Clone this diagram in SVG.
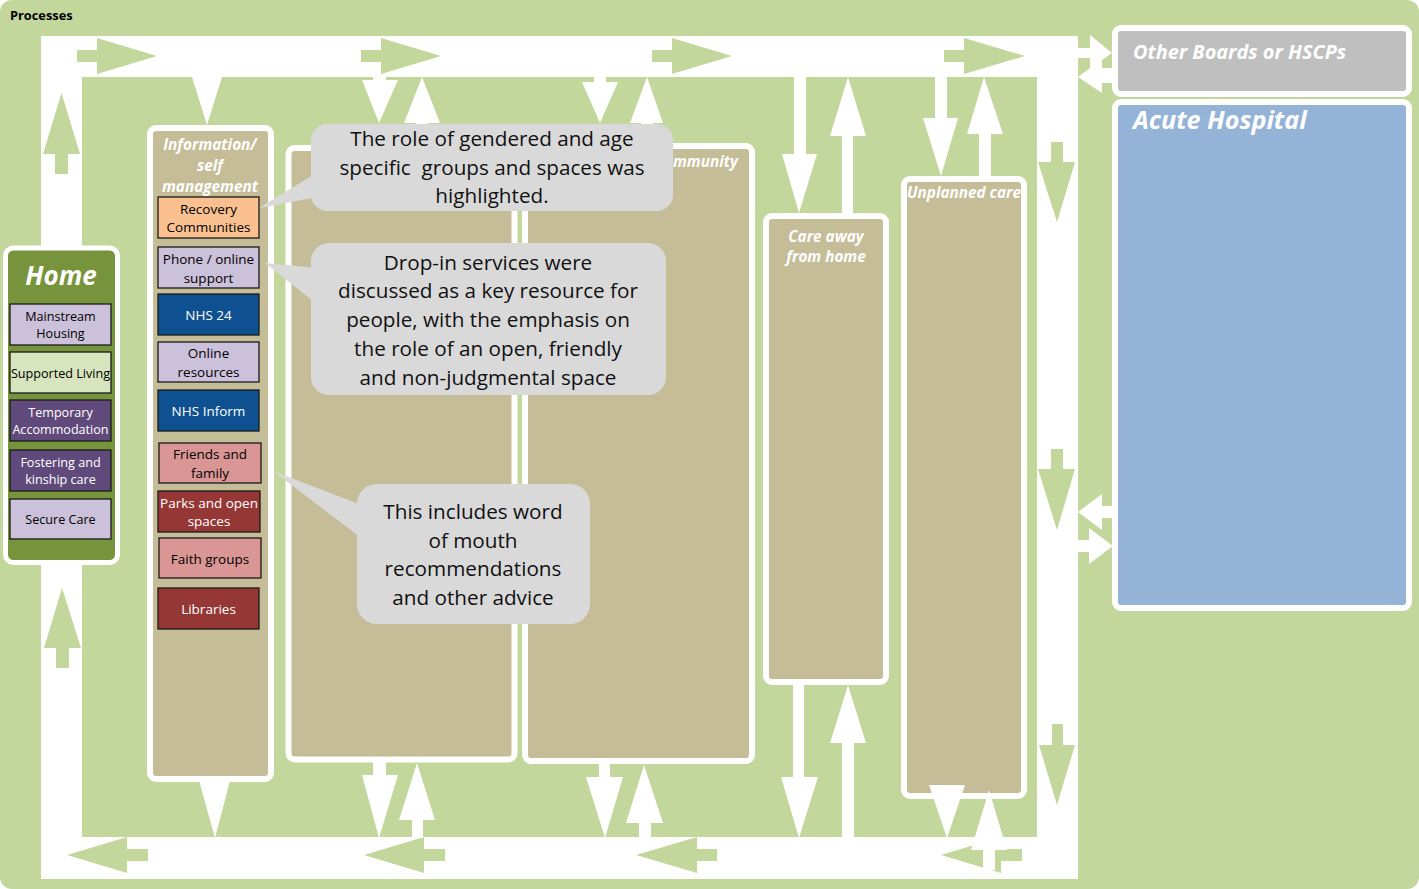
<svg xmlns="http://www.w3.org/2000/svg" width="1419" height="889" viewBox="0 0 1419 889">
<style>
text{font-family:"Open Sans","Noto Sans","Liberation Sans",sans-serif}
.bg{fill:#C3D69B}
.g{fill:#C3D69B}
.w{fill:#FFFFFF}
.col{fill:#C4BD97;stroke:#FFFFFF;stroke-width:6}
.ttl{fill:#FFFFFF;font-weight:bold;font-style:italic;font-size:15.3px;text-anchor:middle}
.ttls{fill:#FFFFFF;font-weight:bold;font-style:italic;font-size:15.3px;text-anchor:start}
.item{stroke:#1a1a1a;stroke-width:1.3}
.it{font-size:12.6px;text-anchor:middle}
.ii{font-size:13.5px;text-anchor:middle}
.dk{fill:#000000}
.lt{fill:#FFFFFF}
.lav{fill:#CCC1DA}
.lgr{fill:#D7E4BD}
.pur{fill:#604A7B}
.nhs{fill:#0F5190}
.red{fill:#953735}
.pink{fill:#D99694}
.org{fill:#FAC090}
.call{fill:#D9D9D9}
.ct{font-size:20.7px;fill:#111111;text-anchor:middle}
</style>
<rect class="bg" x="0" y="0" width="1419" height="889" rx="12"/>
<text x="10" y="20" font-size="12.8" font-weight="bold" fill="#000">Processes</text>
<g id="frame">
<rect class="w" x="41" y="36" width="1037" height="843"/>
<rect class="g" x="82" y="77" width="955" height="760"/>
</g>
<g id="home">
<rect x="5.5" y="248" width="112" height="314.5" rx="8" fill="#77933C" stroke="#FFFFFF" stroke-width="5"/>
<text x="61" y="285" fill="#FFFFFF" font-size="26" font-weight="bold" font-style="italic" text-anchor="middle">Home</text>
<rect class="item lav" x="10" y="304" width="101" height="41"/>
<text class="it dk" x="60.5" y="321">Mainstream</text><text class="it dk" x="60.5" y="338">Housing</text>
<rect class="item lgr" x="10" y="352" width="101" height="41"/>
<text class="it dk" x="60.5" y="378">Supported Living</text>
<rect class="item pur" x="10" y="400" width="101" height="41"/>
<text class="it lt" x="60.5" y="417">Temporary</text><text class="it lt" x="60.5" y="434">Accommodation</text>
<rect class="item pur" x="10" y="450" width="101" height="41"/>
<text class="it lt" x="60.5" y="467">Fostering and</text><text class="it lt" x="60.5" y="484">kinship care</text>
<rect class="item lav" x="10" y="499" width="101" height="40"/>
<text class="it dk" x="60.5" y="524">Secure Care</text>
</g>
<g id="information">
<rect class="col" x="150" y="128" width="121" height="651" rx="6"/>
<text class="ttl" x="210" y="150">Information/</text>
<text class="ttl" x="210" y="171">self</text>
<text class="ttl" x="210" y="192">management</text>
<rect class="item org" x="158" y="197" width="101" height="41"/>
<text class="ii dk" x="208.5" y="214">Recovery</text><text class="ii dk" x="208.5" y="232">Communities</text>
<rect class="item lav" x="158" y="247" width="101" height="41"/>
<text class="ii dk" x="208.5" y="264">Phone / online</text><text class="ii dk" x="208.5" y="283">support</text>
<rect class="item nhs" x="158" y="294" width="101" height="41"/>
<text class="ii lt" x="208.5" y="320">NHS 24</text>
<rect class="item lav" x="158" y="342" width="101" height="40"/>
<text class="ii dk" x="208.5" y="358">Online</text><text class="ii dk" x="208.5" y="377">resources</text>
<rect class="item nhs" x="158" y="390" width="101" height="41"/>
<text class="ii lt" x="208.5" y="416">NHS Inform</text>
<rect class="item pink" x="159" y="443" width="102" height="40"/>
<text class="ii dk" x="210" y="459">Friends and</text><text class="ii dk" x="210" y="478">family</text>
<rect class="item red" x="158" y="491" width="102" height="41"/>
<text class="ii lt" x="209" y="508">Parks and open</text><text class="ii lt" x="209" y="526">spaces</text>
<rect class="item pink" x="159" y="538" width="102" height="40"/>
<text class="ii dk" x="210" y="564">Faith groups</text>
<rect class="item red" x="158" y="588" width="101" height="41"/>
<text class="ii lt" x="208.5" y="614">Libraries</text>
</g>
<g id="box1">
<rect class="col" x="288.5" y="148" width="226" height="611.5" rx="6"/>
</g>
<g id="community">
<rect class="col" x="525" y="146" width="227" height="615" rx="6"/>
<text class="ttls" x="673" y="167">mmunity</text>
</g>
<g id="care-away">
<rect class="col" x="766" y="216" width="120" height="466" rx="6"/>
<text class="ttl" x="826" y="242">Care away</text>
<text class="ttl" x="826" y="262">from home</text>
</g>
<g id="unplanned">
<rect class="col" x="904" y="179" width="120" height="617" rx="6"/>
<text class="ttl" x="964" y="198">Unplanned care</text>
</g>
<g id="other-boards">
<rect x="1115" y="28" width="294" height="66" rx="6" fill="#BFBFBF" stroke="#FFFFFF" stroke-width="6"/>
<text x="1133" y="59" fill="#FFFFFF" font-size="19.9" font-weight="bold" font-style="italic">Other Boards or HSCPs</text>
</g>
<g id="acute">
<rect x="1115" y="102" width="294" height="506" rx="6" fill="#95B3D7" stroke="#FFFFFF" stroke-width="6"/>
<text x="1133" y="129" fill="#FFFFFF" font-size="25.2" font-weight="bold" font-style="italic">Acute Hospital</text>
</g>
<g id="connectors">
<polygon class="g" points="77,50 97,50 97,38 157,56 97,74 97,62 77,62"/>
<polygon class="g" points="361,50 381,50 381,38 441,56 381,74 381,62 361,62"/>
<polygon class="g" points="652,50 672,50 672,38 732,56 672,74 672,62 652,62"/>
<polygon class="g" points="944,50 964,50 964,38 1025,56 964,74 964,62 944,62"/>
<polygon class="g" points="1051,142 1063,142 1063,162 1075,162 1057,222 1038,162 1051,162"/>
<polygon class="g" points="1051,449 1063,449 1063,469 1075,469 1057,530 1038,469 1051,469"/>
<polygon class="g" points="1052,724 1063,724 1063,745 1075,745 1057,805 1039,745 1052,745"/>
<polygon class="g" points="148,849 127,849 127,837 67,855 127,873 127,861 148,861"/>
<polygon class="g" points="445,849 424,849 424,837 364,855 424,873 424,861 445,861"/>
<polygon class="g" points="717,849 697,849 697,837 636,855 697,873 697,861 717,861"/>
<polygon class="g" points="1022,849 1001,849 1001,837 941,855 1001,873 1001,861 1022,861"/>
<polygon class="g" points="55,174 68,174 68,154 80,154 61.5,93 43,154 55,154"/>
<polygon class="g" points="56,668 69,668 69,648 81,648 62,588 44,648 56,648"/>
<polygon class="w" points="192,77 222,77 207,125"/>
<polygon class="w" points="198,777 231,777 215,838"/>
<polygon class="w" points="373,77 386,77 386,80 398,80 379,123 362,80 373,80"/>
<polygon class="w" points="422,77 440,123 428,123 428,145 416,145 416,123 404,123"/>
<polygon class="w" points="373,762 386,762 386,775 398,775 379,838 362,775 373,775"/>
<polygon class="w" points="417,763 435,820 423,820 423,838 412,838 412,820 399,820"/>
<polygon class="w" points="594,77 606,77 606,82 618,82 600,123 582,82 594,82"/>
<polygon class="w" points="647,77 663,123 653,123 653,145 641,145 641,123 630,123"/>
<polygon class="w" points="599,764 610,764 610,777 623,777 605,838 586,777 599,777"/>
<polygon class="w" points="644,765 663,823 651,823 651,838 639,838 639,823 626,823"/>
<polygon class="w" points="794,77 806,77 806,154 817,154 799,213 782,154 794,154"/>
<polygon class="w" points="848,77 866,136 853,136 853,213 842,213 842,136 830,136"/>
<polygon class="w" points="793,685 804,685 804,777 818,777 799,838 781,777 793,777"/>
<polygon class="w" points="848,685 866,743 854,743 854,838 842,838 842,743 830,743"/>
<polygon class="w" points="935,77 947,77 947,118 958,118 941,176 923,118 935,118"/>
<polygon class="w" points="984,77 1003,134 991,134 991,176 979,176 979,134 967,134"/>
<polygon class="w" points="929,785 965,785 947,838"/>
<polygon class="w" points="989,790 1007,850 995,850 995,870 983,870 983,850 971,850"/>
<polygon class="w" points="1077,48 1090,48 1090,35 1112,53 1090,69 1090,58 1077,58"/>
<polygon class="w" points="1113,68 1102,68 1102,59 1078,77 1102,93 1102,83 1113,83"/>
<polygon class="w" points="1113,506 1102,506 1102,494 1078,512 1102,530 1102,518 1113,518"/>
<polygon class="w" points="1077,540 1089,540 1089,528 1113,546 1089,564 1089,552 1077,552"/>
</g>
<g id="callout-1">
<polygon class="call" points="259,208 318,172 318,197"/>
<rect class="call" x="311" y="124" width="362" height="87" rx="16"/>
<text class="ct" x="492" y="146">The role of gendered and age</text>
<text class="ct" x="492" y="175" xml:space="preserve">specific  groups and spaces was</text>
<text class="ct" x="492" y="203">highlighted.</text>
</g>
<g id="callout-2">
<polygon class="call" points="265,263 318,268 318,305"/>
<rect class="call" x="311" y="243" width="355" height="152" rx="18"/>
<text class="ct" x="488" y="270">Drop-in services were</text>
<text class="ct" x="488" y="298">discussed as a key resource for</text>
<text class="ct" x="488" y="327">people, with the emphasis on</text>
<text class="ct" x="488" y="356">the role of an open, friendly</text>
<text class="ct" x="488" y="385">and non-judgmental space</text>
</g>
<g id="callout-3">
<polygon class="call" points="273,471 364,506 364,540"/>
<rect class="call" x="357" y="484" width="233" height="140" rx="20"/>
<text class="ct" x="473" y="519">This includes word</text>
<text class="ct" x="473" y="548">of mouth</text>
<text class="ct" x="473" y="576">recommendations</text>
<text class="ct" x="473" y="605">and other advice</text>
</g>
</svg>
